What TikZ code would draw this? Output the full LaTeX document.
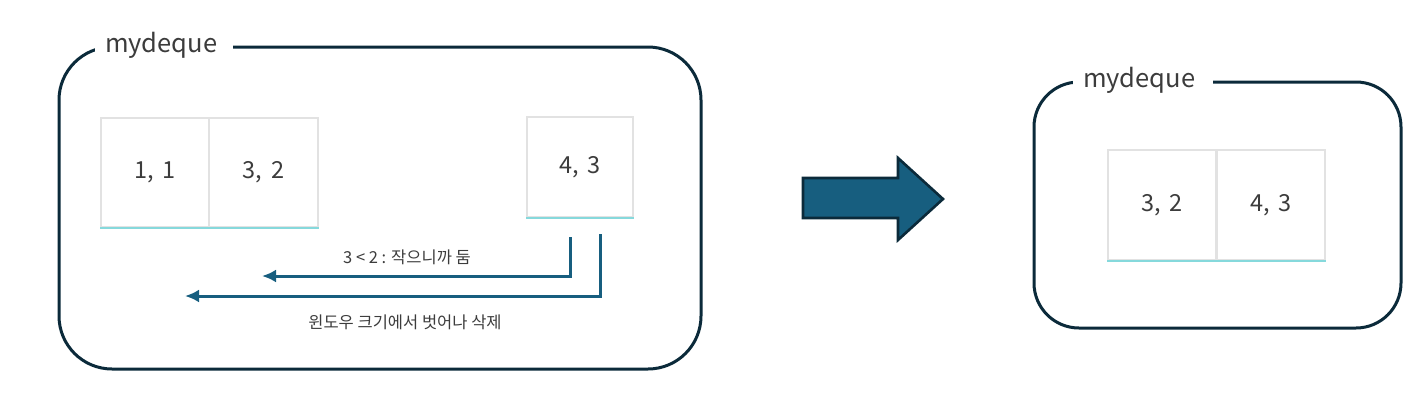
\documentclass[tikz,border=0pt]{standalone}
\usepackage{fontspec}
\setmainfont{Noto Sans CJK KR}
\usetikzlibrary{arrows.meta}
\definecolor{boxnavy}{HTML}{0B2A3A}
\definecolor{ptrblue}{HTML}{175E7F}
\definecolor{cellgray}{HTML}{E2E2E2}
\definecolor{cellcyan}{HTML}{86D9DC}
\definecolor{txtgray}{HTML}{3C3C3C}

\begin{document}
\begin{tikzpicture}[
        x=1pt, y=-1pt,
        >={Latex[length=14pt,width=13pt]},
        frame/.style={
            draw=boxnavy,
            line width=3pt
        },
        title/.style={
            fill=white,
            text=txtgray,
            inner xsep=10pt,
            inner ysep=8pt,
            align=left,
            font=\fontsize{25.5}{30}\selectfont
        },
        cell/.style={
            rectangle,
            draw=cellgray,
            line width=1.2pt,
            text=txtgray,
            font=\fontsize{23.5}{28}\selectfont
        },
        base/.style={
            draw=cellcyan,
            line width=2pt
        },
        ptr/.style={
            ->,
            line width=3pt,
            draw=ptrblue
        },
        note/.style={
            text=txtgray,
            font=\fontsize{16.5}{20}\selectfont
        }
    ]

    \useasboundingbox (0,0) rectangle (1425,416);

    % before
    \draw[frame, rounded corners=53pt] (59,47) rectangle (701,369);
    \node[title, text width=118pt] (t1) at (164,45) {mydeque};

    \node[cell, minimum width=108pt, minimum height=109pt] (c11) at (155,172.5) {1,\hspace{9pt}1};
    \node[cell, minimum width=109pt, minimum height=109pt] (c32) at (263.5,172.5) {3,\hspace{9pt}2};
    \node[cell, minimum width=106pt, minimum height=100pt] (c43) at (580,167) {4,\hspace{9pt}3};
    \draw[base] (c11.south west) -- (c32.south east);
    \draw[base] (c43.south west) -- (c43.south east);

    \coordinate (s1) at (570,237);
    \coordinate (e1) at (262,276);
    \coordinate (s2) at (600,234);
    \coordinate (e2) at (185,296);
    \draw[ptr] (s1) |- (e1);
    \draw[ptr] (s2) |- (e2);
    \node[note] (n1) at (407,257) {3 < 2 : 작으니까 둠};
    \node[note] (n2) at (405,322) {윈도우 크기에서 벗어나 삭제};

    % big arrow
    \draw[draw=boxnavy, fill=ptrblue, line width=2.6pt, line join=miter]
        (803,178) -- (898,178) -- (898,158) -- (943,199) -- (898,240) -- (898,218) -- (803,218) -- cycle;

    % after
    \draw[frame, rounded corners=45pt] (1034,82) rectangle (1401,328);
    \node[title, text width=120pt] (t2) at (1143,80) {mydeque};

    \foreach \v/\x in {{3,\hspace{9pt}2}/1162, {4,\hspace{9pt}3}/1271} {
        \node[cell, minimum width=108pt, minimum height=110pt] (r\x) at (\x,205) {\v};
    }
    \draw[base] (r1162.south west) -- (r1271.south east);

\end{tikzpicture}
\end{document}
